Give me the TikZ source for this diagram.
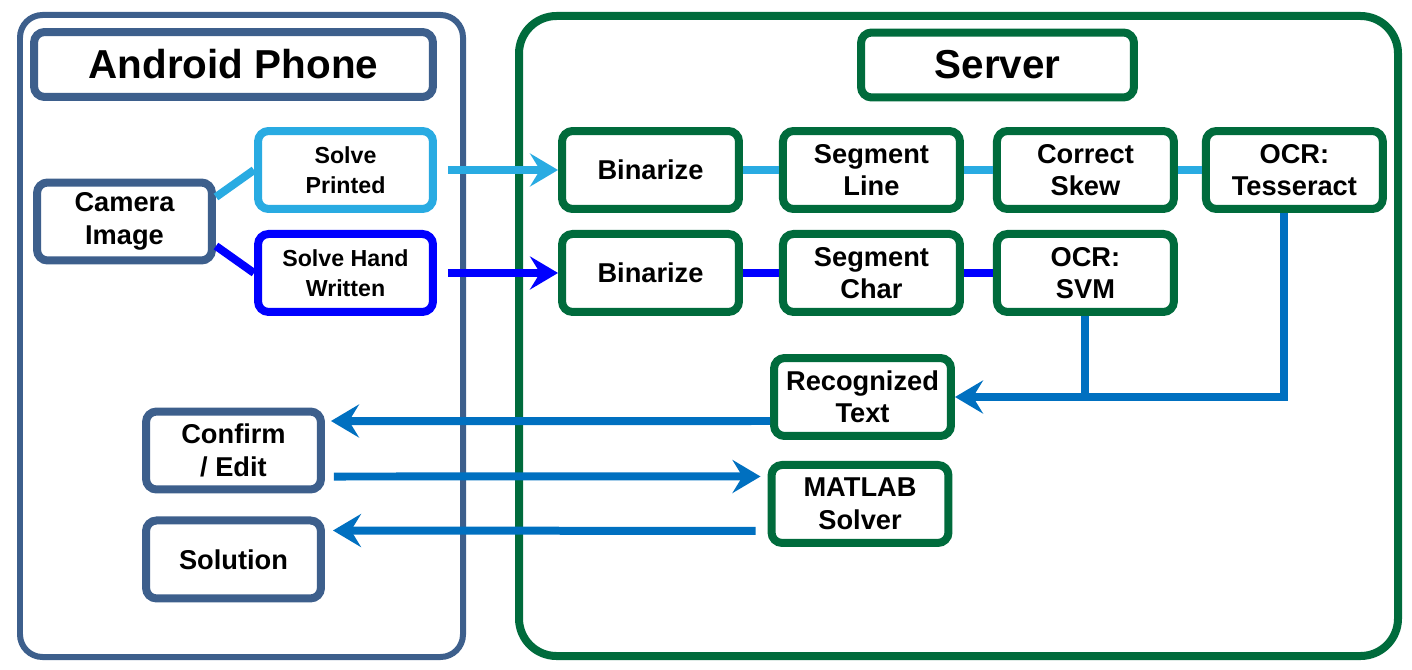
\documentclass[tikz,border=0pt]{standalone}
\usepackage{fontspec}
\setmainfont{Liberation Sans}
\usetikzlibrary{arrows.meta,positioning}
\definecolor{phone}{HTML}{3D5F8C}
\definecolor{server}{HTML}{006B3C}
\definecolor{printed}{HTML}{29ABE2}
\definecolor{hand}{HTML}{0000FF}
\definecolor{flow}{HTML}{0070C0}

\begin{document}
\begin{tikzpicture}[
 x=0.02cm,y=-0.02cm,
 box/.style={draw,line width=0.16cm,rounded corners=6pt,fill=white,align=center,inner sep=0pt,
              font=\fontsize{15.5}{18.5}\selectfont\bfseries},
 pbox/.style={box,draw=phone,minimum width=3.5cm,minimum height=1.56cm},
 sbox/.style={box,draw=server,minimum width=3.54cm,minimum height=1.56cm},
 small/.style={font=\fontsize{13.2}{17}\selectfont\bfseries},
 title/.style={box,font=\fontsize{23}{27}\selectfont\bfseries,minimum height=1.3cm},
 line/.style={line width=0.16cm},
 arrow/.style={line,-{Stealth[length=0.56cm,width=0.66cm,inset=0.2cm]}}]
\useasboundingbox (0,0) rectangle (1412,669);
% the two sides
\draw[phone,line width=0.12cm,rounded corners=0.45cm] (20,15) rectangle (463,657);
\draw[server,line width=0.16cm,rounded corners=0.75cm] (519,16) rectangle (1398,656);
\node[title,draw=phone,minimum width=7.98cm] (android) at (233.5,64.5) {Android Phone};
\node[title,draw=server,minimum width=5.46cm] (server) at (997.5,65) {Server};
% phone
\node[pbox] (camera) at (124.5,221.5) {Camera\\Image};
\node[pbox,small,draw=printed] (solvep) at (345.5,170) {Solve\\Printed};
\node[pbox,small,draw=hand,below=0.34cm of solvep] (solveh) {Solve Hand\\Written};
\node[pbox] (confirm) at (233.5,450.5) {Confirm\\/ Edit};
\node[pbox,below=0.46cm of confirm] (solution) {Solution};
% server
\node[sbox] (bin1) at (650.5,170) {Binarize};
\node[sbox,right=0.72cm of bin1] (segl) {Segment\\Line};
\node[sbox,right=0.58cm of segl] (skew) {Correct\\Skew};
\node[sbox,right=0.48cm of skew] (tess) {OCR:\\Tesseract};
\node[sbox,below=0.34cm of bin1] (bin2) {Binarize};
\node[sbox,below=0.34cm of segl] (segc) {Segment\\Char};
\node[sbox,below=0.34cm of skew] (svm) {OCR:\\SVM};
\node[sbox] (rec) at (862.5,397) {Recognized\\Text};
\node[sbox,below=0.42cm of rec,xshift=-0.05cm] (matlab) {MATLAB\\Solver};
% connectors
\draw[line,printed] (camera.15) -- (solvep.west);
\draw[line,hand] (camera.-15) -- (solveh.west);
\draw[arrow,printed,shorten <=0.22cm] (solvep) -- (bin1);
\draw[arrow,hand,shorten <=0.22cm] (solveh) -- (bin2);
\draw[line,printed] (bin1) -- (segl) (segl) -- (skew) (skew) -- (tess);
\draw[line,hand] (bin2) -- (segc) (segc) -- (svm);
\draw[line,flow] (svm) -- (svm.south |- rec.east);
\draw[arrow,flow] ([xshift=-0.2cm]tess.south) |- (rec.east);
\draw[arrow,flow,shorten >=0.12cm] ([yshift=-0.48cm]rec.west) -- ([yshift=0.59cm]confirm.east);
\draw[arrow,flow,shorten <=0.18cm,shorten >=0.14cm] ([yshift=-0.52cm]confirm.east) -- ([yshift=0.55cm]matlab.west);
\draw[arrow,flow,shorten <=0.24cm,shorten >=0.16cm] ([yshift=-0.54cm]matlab.west) -- ([yshift=0.58cm]solution.east);
\end{tikzpicture}
\end{document}
